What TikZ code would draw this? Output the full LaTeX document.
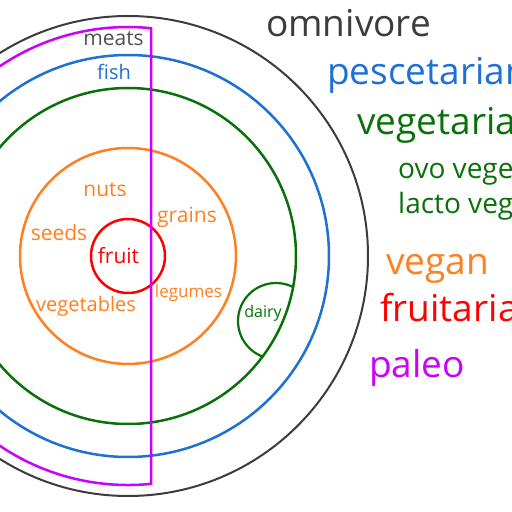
\documentclass[tikz,border=0pt]{standalone}
\usepackage{fontspec}
\setmainfont{Open Sans}
\definecolor{cblack}{RGB}{60,60,60}
\definecolor{cblue}{RGB}{30,112,212}
\definecolor{cgreen}{RGB}{10,112,10}
\definecolor{corange}{RGB}{255,128,32}
\definecolor{cred}{RGB}{255,0,0}
\definecolor{cpurple}{RGB}{204,0,255}
\definecolor{cgray}{RGB}{80,80,80}
\tikzset{
  ring/.style={line width=2.5pt},
  biglabel/.style={anchor=base west,inner sep=0pt,font=\fontsize{37}{40}\selectfont},
  midlabel/.style={anchor=base west,inner sep=0pt,font=\fontsize{28}{30}\selectfont},
  foodlabel/.style={anchor=base,inner sep=0pt,font=\fontsize{21}{24}\selectfont},
}
\begin{document}
\begin{tikzpicture}[x=1pt,y=1pt]
\useasboundingbox (0,0) rectangle (512,512);
\clip (0,0) rectangle (512,512);
\fill[white] (0,0) rectangle (512,512);
\coordinate (c) at (128,256);
\draw[line width=2pt,cblack] (c) circle (240);
\draw[ring,cblue] (c) circle (201);
\draw[ring,cgreen] (c) circle (168);
\begin{scope}
  \clip (c) circle (168);
  \draw[ring,cgreen,line width=2.2pt] (276,191) circle (38);
\end{scope}
\draw[ring,corange] (c) circle (108);
\draw[ring,cred] (c) circle (37);
\draw[ring,cpurple] (151,483.8) arc[start angle=84.23,end angle=275.77,radius=229] -- cycle;
% inner labels
\node[foodlabel,cgray] (meats) at (113.5,466) {meats};
\node[foodlabel,cblue,font=\fontsize{20}{24}\selectfont] (fish) at (114,432) {fish};
\node[foodlabel,corange] (nuts) at (105,315) {nuts};
\node[foodlabel,corange] (seeds) at (59,271) {seeds};
\node[foodlabel,cred] (fruit) at (118.5,248) {fruit};
\node[foodlabel,corange] (grains) at (187,289) {grains};
\node[foodlabel,corange,font=\fontsize{17}{20}\selectfont] (legumes) at (188.5,214) {legumes};
\node[foodlabel,corange,font=\fontsize{20}{24}\selectfont] (vegetables) at (86,200) {vegetables};
\node[foodlabel,cgreen,font=\fontsize{16}{19}\selectfont] (dairy) at (263,194) {dairy};
% diet labels
\node[biglabel,cblack] (omni) at (266,475) {omnivore};
\node[biglabel,cblue] (pesc) at (327,427) {pescetarian};
\node[biglabel,cgreen] (vege) at (357,377) {vegetarian};
\node[midlabel,cgreen] (ovo) at (398,333) {ovo vegetarian};
\node[midlabel,cgreen] (lacto) at (398,298) {lacto vegetarian};
\node[biglabel,corange] (vegan) at (386,237) {vegan};
\node[biglabel,cred] (fruitarian) at (380,190) {fruitarian};
\node[biglabel,cpurple] (paleo) at (369,134) {paleo};
\end{tikzpicture}
\end{document}
